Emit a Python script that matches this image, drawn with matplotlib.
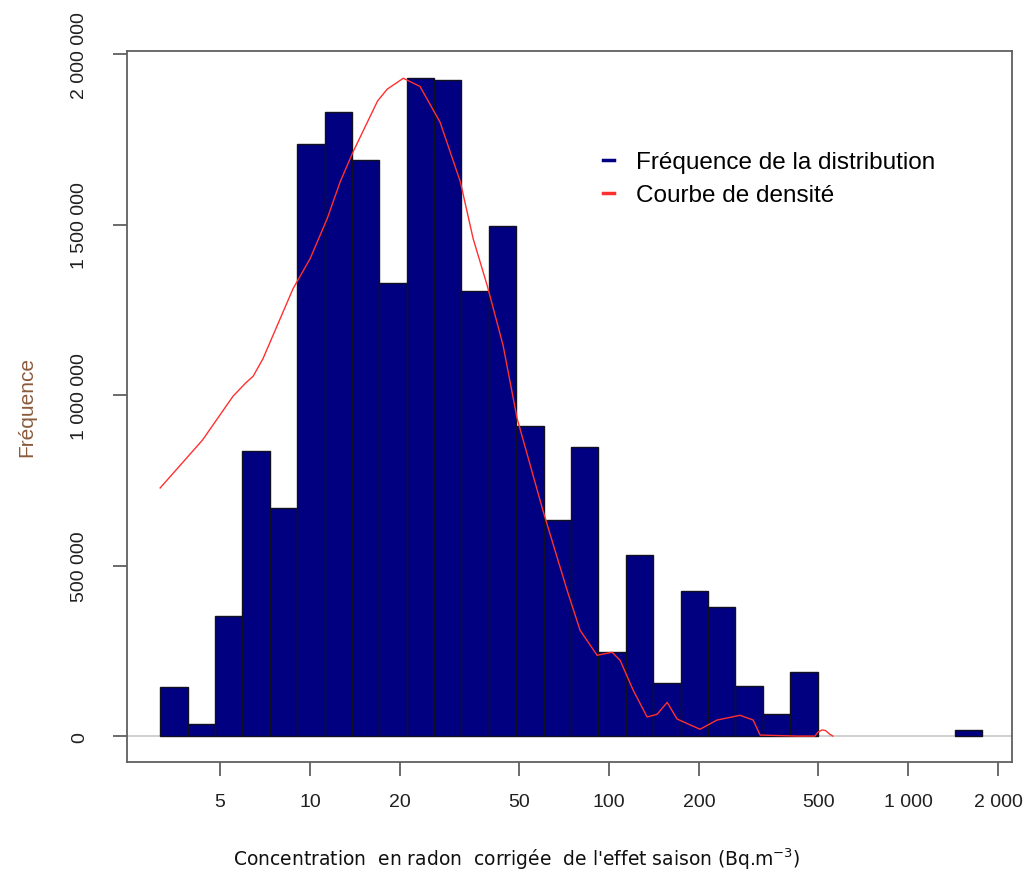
import numpy as np
import matplotlib
matplotlib.use('Agg')
import matplotlib.pyplot as plt
from matplotlib.lines import Line2D
from matplotlib.ticker import FuncFormatter

# histogram bins (equal width on log scale), 30 bins from ~3.15 to ~1770 Bq/m3
bin_lo, bin_hi, n_bins = 3.15, 1767.0, 30
counts = [143000, 35000, 351000, 836000, 670000, 1737000, 1830000, 1690000,
          1330000, 1930000, 1924000, 1307000, 1497000, 909000, 635000, 848000,
          246000, 532000, 155000, 427000, 380000, 146000, 64000, 187000,
          0, 0, 0, 0, 0, 18000]

# density curve (scaled to frequency)
dens_x = [3.15, 4.36, 5.52, 6.07, 6.45, 6.96, 8.77, 10.0, 11.4, 12.6, 13.9,
          16.8, 18.1, 20.5, 23.3, 27.2, 31.8, 35.1, 39.1, 44.2, 49.2, 60.1,
          72.4, 80.0, 91.2, 102.4, 108.9, 120.3, 134.0, 144.8, 156.4, 168.8,
          201.4, 229.6, 274.2, 303.3, 320.0, 425.5, 488.0, 500.0, 516.0,
          530.0, 548.0, 560.0]
dens_y = [728000, 868000, 997000, 1035000, 1056000, 1108000, 1313000,
          1401000, 1518000, 1626000, 1713000, 1863000, 1898000, 1930000,
          1906000, 1801000, 1626000, 1459000, 1322000, 1146000, 933000,
          661000, 427000, 310000, 237000, 246000, 222000, 135000, 56000,
          64000, 99000, 50000, 20000, 47000, 61000, 47000, 3000, 0, 0,
          12000, 18000, 16000, 5000, 0]

xticks = [5, 10, 20, 50, 100, 200, 500, 1000, 2000]
yticks = [0, 500000, 1000000, 1500000, 2000000]

def fr(v, pos=None):
    return '{:,}'.format(int(v)).replace(',', ' ')

edges = np.geomspace(bin_lo, bin_hi, n_bins + 1)
counts = np.array(counts)
keep = counts > 0

fig = plt.figure(figsize=(10.36, 8.78), dpi=100)
ax = fig.add_axes([0.1226, 0.1310, 0.8543, 0.8098])

ax.axhline(0, color='#c8c8c8', lw=1.2, zorder=1)
ax.bar(edges[:-1][keep], counts[keep], width=np.diff(edges)[keep], align='edge',
       color='#000080', edgecolor='#101020', linewidth=1.0, zorder=2)
ax.plot(dens_x, dens_y, color='#ff3030', lw=1.0, zorder=3)

ax.set_xscale('log')
ax.set_xlim(2.44, 2228)
ax.set_ylim(-76000, 2010000)
ax.set_xticks(xticks)
ax.xaxis.set_major_formatter(FuncFormatter(fr))
ax.xaxis.set_minor_locator(matplotlib.ticker.NullLocator())
ax.set_yticks(yticks)
ax.yaxis.set_major_formatter(FuncFormatter(fr))
for lab in ax.get_yticklabels():
    lab.set_rotation(90)
    lab.set_va('center')

for sp in ax.spines.values():
    sp.set_color('#606060')
    sp.set_linewidth(1.3)
ax.tick_params(axis='both', length=10, width=1.3, color='#606060',
               labelsize=14, labelcolor='#202020', labelfontfamily='Liberation Sans')
ax.tick_params(axis='x', pad=12)
ax.tick_params(axis='y', pad=18)

ax.set_ylabel('Fréquence', color='#8b5a3c', fontsize=15, family='Liberation Sans')
ax.yaxis.set_label_coords(-0.103, 0.5)
ax.set_xlabel("Concentration  en radon  corrigée  de l'effet saison (Bq.m$^{-3}$)",
              fontsize=13.5, family='DejaVu Sans', color='#101010')
ax.xaxis.set_label_coords(0.44, -0.118)

handles = [Line2D([], [], color='#000080', lw=2.5),
           Line2D([], [], color='#ff3030', lw=2.5)]
ax.legend(handles, ['Fréquence de la distribution', 'Courbe de densité'],
          loc='upper left', bbox_to_anchor=(0.513, 0.89), frameon=False,
          handlelength=0.45, handletextpad=0.9, labelspacing=0.45,
          prop={'family': 'Liberation Sans', 'size': 17.5})

fig.savefig('out.png', dpi=100)
